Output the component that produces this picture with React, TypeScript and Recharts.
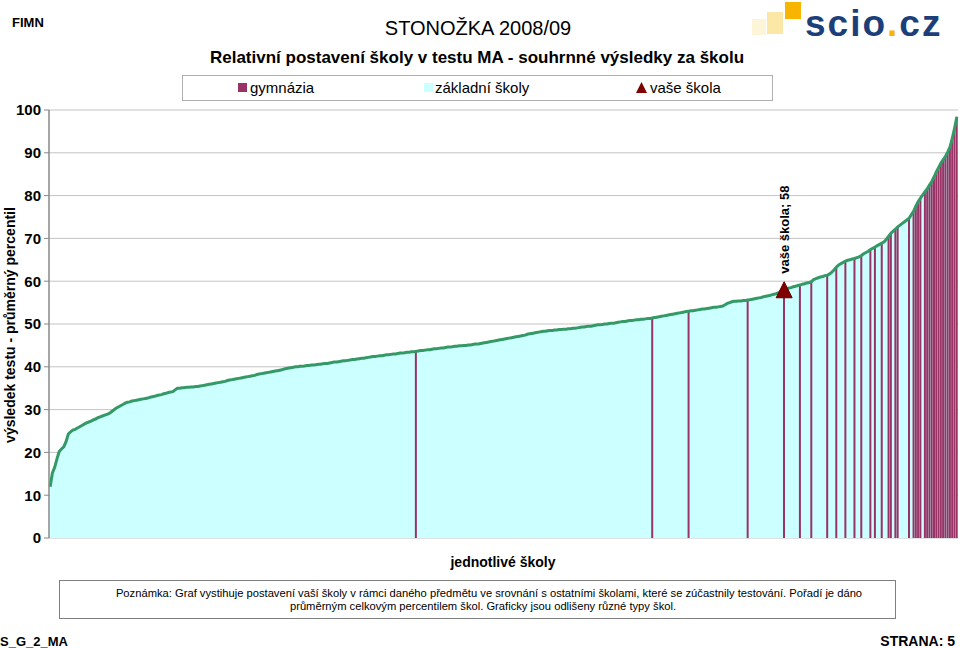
import React from "react";
import { ComposedChart, Area, Bar, Line, XAxis, YAxis, CartesianGrid } from "recharts";

// average percentile of each school, sorted ascending
const percentiles: number[] = [
  12.0, 15.2, 16.5, 18.5, 20.2, 20.8, 21.3, 22.5, 24.3, 24.8,
  25.2, 25.4, 25.7, 26.0, 26.3, 26.6, 26.9, 27.1, 27.3, 27.6,
  27.8, 28.1, 28.3, 28.5, 28.7, 28.9, 29.1, 29.5, 29.9, 30.3,
  30.6, 30.9, 31.2, 31.5, 31.7, 31.8, 32.0, 32.1, 32.2, 32.3,
  32.4, 32.5, 32.6, 32.7, 32.9, 33.0, 33.1, 33.3, 33.4, 33.5,
  33.7, 33.8, 34.0, 34.1, 34.2, 34.6, 35.0, 35.0, 35.1, 35.1,
  35.2, 35.2, 35.3, 35.3, 35.4, 35.4, 35.5, 35.6, 35.7, 35.8,
  35.9, 36.0, 36.1, 36.2, 36.3, 36.4, 36.5, 36.6, 36.8, 36.9,
  37.0, 37.1, 37.2, 37.3, 37.4, 37.5, 37.6, 37.7, 37.8, 37.9,
  38.0, 38.2, 38.3, 38.4, 38.5, 38.6, 38.7, 38.8, 38.9, 39.0,
  39.1, 39.2, 39.3, 39.5, 39.6, 39.7, 39.8, 39.9, 40.0, 40.0,
  40.1, 40.1, 40.2, 40.3, 40.3, 40.4, 40.4, 40.5, 40.6, 40.6,
  40.7, 40.8, 40.8, 40.9, 41.0, 41.1, 41.1, 41.2, 41.3, 41.4,
  41.4, 41.5, 41.6, 41.7, 41.7, 41.8, 41.9, 42.0, 42.0, 42.1,
  42.2, 42.3, 42.4, 42.4, 42.5, 42.6, 42.6, 42.7, 42.8, 42.8,
  42.9, 43.0, 43.0, 43.1, 43.2, 43.2, 43.3, 43.4, 43.4, 43.5,
  43.5, 43.6, 43.7, 43.8, 43.8, 43.9, 44.0, 44.0, 44.1, 44.2,
  44.2, 44.3, 44.4, 44.4, 44.5, 44.6, 44.6, 44.7, 44.8, 44.8,
  44.9, 44.9, 45.0, 45.0, 45.1, 45.1, 45.2, 45.3, 45.3, 45.4,
  45.5, 45.6, 45.7, 45.8, 45.9, 46.0, 46.1, 46.2, 46.3, 46.4,
  46.5, 46.6, 46.7, 46.8, 46.9, 47.0, 47.1, 47.2, 47.3, 47.4,
  47.6, 47.7, 47.8, 47.9, 48.0, 48.1, 48.2, 48.3, 48.3, 48.4,
  48.5, 48.5, 48.6, 48.6, 48.7, 48.7, 48.8, 48.8, 48.9, 48.9,
  49.0, 49.0, 49.1, 49.2, 49.3, 49.3, 49.4, 49.5, 49.5, 49.6,
  49.7, 49.8, 49.8, 49.9, 50.0, 50.0, 50.1, 50.2, 50.2, 50.3,
  50.4, 50.5, 50.6, 50.6, 50.7, 50.8, 50.8, 50.9, 51.0, 51.0,
  51.1, 51.1, 51.2, 51.3, 51.3, 51.4, 51.5, 51.6, 51.7, 51.8,
  51.9, 52.0, 52.1, 52.2, 52.3, 52.4, 52.5, 52.6, 52.7, 52.8,
  52.9, 53.0, 53.1, 53.1, 53.2, 53.3, 53.4, 53.5, 53.5, 53.6,
  53.7, 53.8, 53.9, 53.9, 54.0, 54.1, 54.2, 54.5, 54.8, 55.0,
  55.2, 55.3, 55.3, 55.4, 55.4, 55.5, 55.5, 55.6, 55.7, 55.8,
  55.9, 56.0, 56.1, 56.2, 56.4, 56.5, 56.6, 56.7, 56.9, 57.0,
  57.2, 57.4, 57.7, 58.0, 58.2, 58.4, 58.5, 58.7, 58.8, 59.0,
  59.1, 59.3, 59.4, 59.6, 59.7, 59.9, 60.4, 60.6, 60.8, 61.0,
  61.1, 61.3, 61.4, 61.7, 62.1, 62.7, 63.3, 63.8, 64.1, 64.4,
  64.7, 64.9, 65.0, 65.2, 65.3, 65.5, 65.7, 66.0, 66.4, 66.7,
  67.0, 67.4, 67.7, 68.0, 68.3, 68.6, 68.9, 69.2, 69.8, 70.5,
  71.2, 71.7, 72.2, 72.7, 73.1, 73.5, 73.9, 74.3, 74.7, 75.6,
  76.4, 77.6, 78.6, 79.4, 80.2, 80.9, 81.6, 82.5, 83.3, 84.4,
  85.6, 86.6, 87.6, 88.4, 89.2, 90.2, 91.4, 93.4, 95.8, 98.4,
];

// positions (0-based rank) of the gymnázia among all schools
const gymnaziaIdx: number[] = [
  161, 265, 281, 307, 323, 330, 335, 342, 346, 350, 354, 357, 361, 363, 366,
  369, 370, 372, 373, 378, 380, 381, 382, 383, 385, 386, 387, 388, 389, 390,
  391, 392, 393, 394, 395, 396, 397, 398, 399,
];

const yourSchoolIdx = 323;
const yourSchoolValue = 58;
const yourSchoolLabel = "vaše škola";
const yTicks = [0, 10, 20, 30, 40, 50, 60, 70, 80, 90, 100];

const gymSet = new Set(gymnaziaIdx);
const data = percentiles.map((v, i) => ({
  school: i + 1,
  all: v,
  gym: gymSet.has(i) ? v : null,
  vase: i === yourSchoolIdx ? yourSchoolValue : null,
}));

const ARIAL = "Arial, 'Liberation Sans', Helvetica, sans-serif";

const renderMarker = (props: any) => {
  const { cx, cy, payload, index } = props;
  if (!payload || payload.vase == null || cx == null || cy == null) {
    return <g key={`m${index}`} />;
  }
  return (
    <g key={`m${index}`}>
      <polygon
        points={`${cx},${cy - 8} ${cx - 8},${cy + 8} ${cx + 8},${cy + 8}`}
        fill="#800000"
        stroke="#5c0000"
        strokeWidth={1}
      />
      <text
        x={cx}
        y={cy - 16}
        transform={`rotate(-90 ${cx} ${cy - 16})`}
        textAnchor="start"
        dominantBaseline="central"
        fontFamily={ARIAL}
        fontWeight="bold"
        fontSize={13}
        fill="#000"
      >
        {`${yourSchoolLabel}; ${payload.vase}`}
      </text>
    </g>
  );
};

export default function App() {
  return (
    <div style={{ position: "absolute", left: 0, top: 0, width: 960, height: 649, background: "#fff", overflow: "hidden" }}>
      <div style={{ position: "absolute", left: 0, top: 0 }}>
        <ComposedChart
          width={960}
          height={560}
          data={data}
          margin={{ top: 110, right: 2, bottom: 22, left: 0 }}
          barCategoryGap={0}
          barGap={0}
        >
          <CartesianGrid vertical={false} stroke="#c4c4c4" strokeWidth={1} />
          <XAxis dataKey="school" type="category" hide />
          <YAxis
            width={49}
            domain={[0, 100]}
            ticks={yTicks}
            interval={0}
            tickSize={5}
            tickMargin={3}
            axisLine={{ stroke: "#888888", strokeWidth: 1.5 }}
            tickLine={{ stroke: "#888888" }}
            tick={{ fontSize: 15, fontWeight: "bold", fill: "#000", fontFamily: ARIAL }}
          />
          <Area
            dataKey="all"
            type="linear"
            fill="#CCFFFF"
            fillOpacity={1}
            stroke="none"
            isAnimationActive={false}
            activeDot={false}
          />
          <Bar dataKey="gym" fill="#993366" isAnimationActive={false} />
          <Line
            dataKey="all"
            type="linear"
            stroke="#339966"
            strokeWidth={3}
            dot={false}
            activeDot={false}
            isAnimationActive={false}
          />
          <Line
            dataKey="vase"
            stroke="none"
            dot={renderMarker}
            activeDot={false}
            isAnimationActive={false}
          />
        </ComposedChart>
      </div>
      <svg
        width={960}
        height={649}
        style={{ position: "absolute", left: 0, top: 0, pointerEvents: "none" }}
        fontFamily={ARIAL}
      >
        {/* header */}
        <text x={12} y={27} fontSize={13} fontWeight="bold">FIMN</text>
        <text x={478} y={35} fontSize={20} textAnchor="middle">STONOŽKA 2008/09</text>
        {/* logo */}
        <rect x={752} y={19} width={14} height={16} fill="#fdf5d8" />
        <rect x={767} y={12} width={16} height={22} fill="#fbe7a6" />
        <rect x={785} y={2} width={16} height={17} fill="#f7b500" />
        <text x={805} y={36} fontSize={37} fontWeight="bold" fill="#1c3f7a" letterSpacing={2}>
          scio<tspan fill="#f7b500">.</tspan>cz
        </text>
        {/* title */}
        <text x={477} y={63} fontSize={17} fontWeight="bold" textAnchor="middle">
          Relativní postavení školy v testu MA - souhrnné výsledky za školu
        </text>
        {/* legend */}
        <rect x={182.5} y={75.5} width={590} height={25} fill="#fff" stroke="#b0b0b0" />
        <rect x={238} y={83} width={9} height={9} fill="#993366" />
        <text x={250} y={93} fontSize={15}>gymnázia</text>
        <rect x={424} y={83} width={9} height={9} fill="#CCFFFF" />
        <text x={435} y={93} fontSize={15}>základní školy</text>
        <polygon points="641.5,82 636,93 647,93" fill="#800000" />
        <text x={650} y={93} fontSize={15}>vaše škola</text>
        {/* axis titles */}
        <text
          x={15}
          y={325}
          transform="rotate(-90 15 325)"
          fontSize={14}
          fontWeight="bold"
          textAnchor="middle"
        >
          výsledek testu - průměrný percentil
        </text>
        <text x={503} y={567} fontSize={14} fontWeight="bold" textAnchor="middle">
          jednotlivé školy
        </text>
        {/* note */}
        <rect x={59.5} y={580.5} width={836} height={38} fill="#fff" stroke="#808080" />
        <text x={489} y={597} fontSize={11.2} textAnchor="middle">
          Poznámka: Graf vystihuje postavení vaší školy v rámci daného předmětu ve srovnání s ostatními školami, které se zúčastnily testování. Pořadí je dáno
        </text>
        <text x={483} y={610} fontSize={11.2} textAnchor="middle">
          průměrným celkovým percentilem škol. Graficky jsou odlišeny různé typy škol.
        </text>
        {/* footer */}
        <text x={0} y={646} fontSize={13} fontWeight="bold">S_G_2_MA</text>
        <text x={955} y={646} fontSize={14} fontWeight="bold" textAnchor="end">STRANA: 5</text>
      </svg>
    </div>
  );
}
